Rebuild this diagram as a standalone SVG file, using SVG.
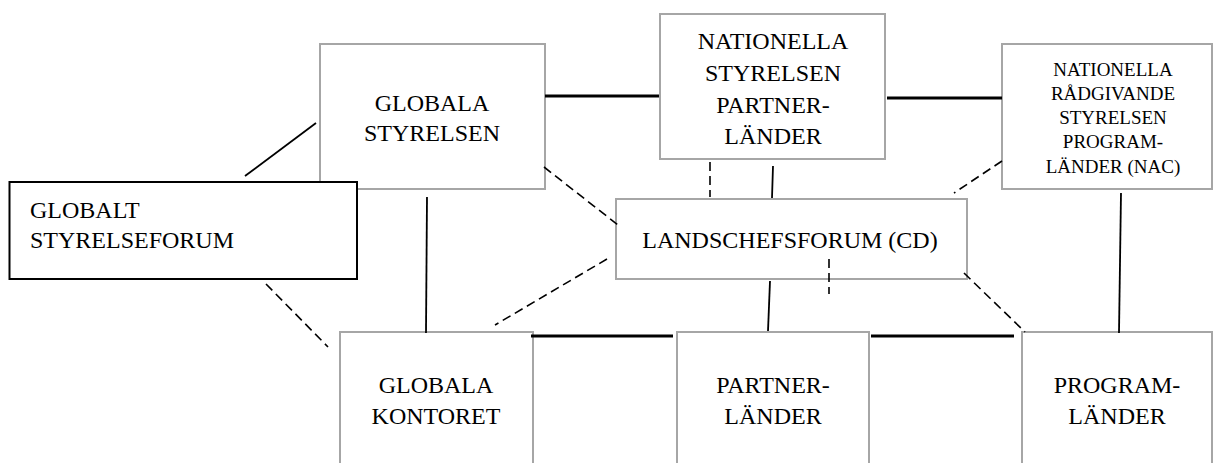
<svg xmlns="http://www.w3.org/2000/svg" width="1213" height="463" viewBox="0 0 1213 463">
<style>
.box{fill:#fff;stroke:#a6a6a6;stroke-width:2}
.bbox{fill:#fff;stroke:#000;stroke-width:2}
text{font-family:"Liberation Serif","Times New Roman",serif;font-size:24px;fill:#000}
.c{text-anchor:middle}
.s{font-size:19px}
.ln{stroke:#000;stroke-width:1.8;fill:none}
.thk{stroke:#000;stroke-width:3;fill:none}
.ds{stroke:#000;stroke-width:1.6;stroke-dasharray:9,5;fill:none}
</style>
<rect width="1213" height="463" fill="#fff"/>
<g id="globala-styrelsen">
<rect class="box" x="320" y="44" width="225" height="145"/>
<text class="c" x="432" y="111">GLOBALA</text>
<text class="c" x="432" y="141">STYRELSEN</text>
</g>
<g id="globalt-styrelseforum">
<rect class="bbox" x="9.5" y="182" width="347.5" height="97"/>
<text x="30" y="218">GLOBALT</text>
<text x="30" y="248">STYRELSEFORUM</text>
</g>
<g id="nationella-partner">
<rect class="box" x="660" y="14" width="225" height="145"/>
<text class="c" x="773" y="49">NATIONELLA</text>
<text class="c" x="773" y="81">STYRELSEN</text>
<text class="c" x="773" y="113">PARTNER-</text>
<text class="c" x="773" y="144">LÄNDER</text>
</g>
<g id="nationella-nac">
<rect class="box" x="1002" y="44" width="210" height="145"/>
<text class="c s" x="1113" y="76">NATIONELLA</text>
<text class="c s" x="1113" y="100">RÅDGIVANDE</text>
<text class="c s" x="1113" y="124">STYRELSEN</text>
<text class="c s" x="1113" y="148">PROGRAM-</text>
<text class="c s" x="1113" y="173">LÄNDER (NAC)</text>
</g>
<g id="landschefsforum">
<rect class="box" x="616" y="199" width="351" height="80"/>
<text class="c" x="790" y="248">LANDSCHEFSFORUM (CD)</text>
</g>
<g id="globala-kontoret">
<rect class="box" x="340" y="332" width="193" height="140"/>
<text class="c" x="436" y="393">GLOBALA</text>
<text class="c" x="436" y="424">KONTORET</text>
</g>
<g id="partnerlander">
<rect class="box" x="677" y="332" width="192" height="140"/>
<text class="c" x="773" y="393">PARTNER-</text>
<text class="c" x="773" y="424">LÄNDER</text>
</g>
<g id="programlander">
<rect class="box" x="1022" y="332" width="190" height="140"/>
<text class="c" x="1117" y="393">PROGRAM-</text>
<text class="c" x="1117" y="424">LÄNDER</text>
</g>
<g id="connectors">
<line class="ln" x1="316" y1="123" x2="245" y2="176"/>
<line class="ds" x1="266" y1="284" x2="328" y2="347"/>
<line class="thk" x1="545" y1="96" x2="659" y2="96"/>
<line class="thk" x1="887" y1="98" x2="1002" y2="98"/>
<line class="ds" x1="544" y1="167" x2="618" y2="225"/>
<line class="ds" x1="607" y1="259" x2="495" y2="325"/>
<line class="ds" x1="710" y1="162" x2="710" y2="197"/>
<line class="ln" x1="773" y1="166" x2="772" y2="198"/>
<line class="ln" x1="770" y1="281" x2="768" y2="331"/>
<line class="ds" x1="1002" y1="161" x2="954" y2="193"/>
<line class="ds" x1="829" y1="259" x2="829" y2="294" stroke-dasharray="14,9"/>
<line class="ds" x1="964" y1="273" x2="1025" y2="332"/>
<line class="ln" x1="1121" y1="193" x2="1119" y2="333"/>
<line class="ln" x1="427" y1="197" x2="426" y2="333"/>
<line class="thk" x1="531" y1="336" x2="673" y2="336"/>
<line class="thk" x1="871" y1="336" x2="1014" y2="336"/>
</g>
</svg>
